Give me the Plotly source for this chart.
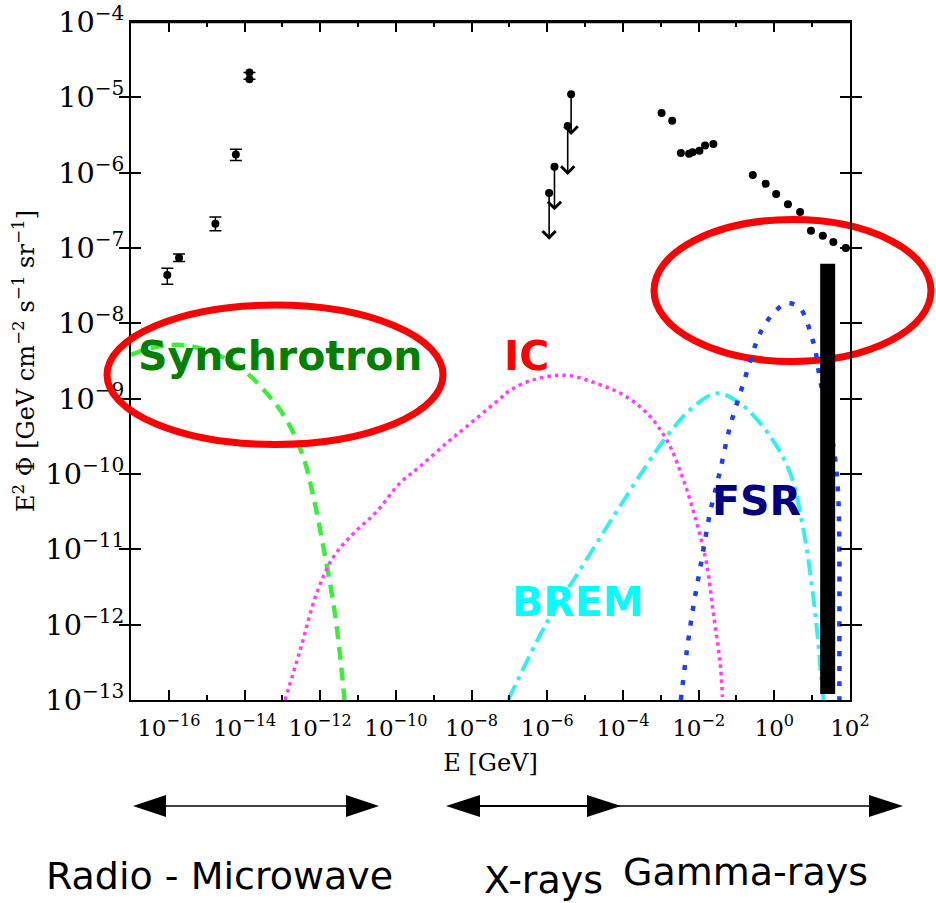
import numpy as np
import plotly.graph_objects as go

# ---------------- data ----------------
# radio / microwave measurements (GeV, GeV cm^-2 s^-1 sr^-1)
radio_E = [9.1e-17, 1.86e-16, 1.7e-15, 5.9e-15, 1.35e-14, 1.35e-14]
radio_flux = [4.37e-8, 7.4e-8, 2.1e-7, 1.74e-6, 2.14e-5, 1.74e-5]
radio_err_plus = [1.0e-8, 0.9e-8, 0.47e-7, 0.30e-6, 0.0, 0.0]
radio_err_minus = [1.06e-8, 0.8e-8, 0.40e-7, 0.29e-6, 0.0, 0.0]

# X-ray upper limits
xray_ul_E = [1.12e-6, 1.55e-6, 3.47e-6, 4.27e-6]
xray_ul_flux = [5.37e-7, 1.20e-6, 4.17e-6, 1.10e-5]
xray_ul_arrow_to = [1.29e-7, 3.16e-7, 9.3e-7, 3.16e-6]

# gamma-ray measurements
gamma_E = [1.05e-3, 2.0e-3, 3.4e-3, 5.6e-3, 6.9e-3, 1.05e-2, 1.48e-2, 2.45e-2,
           0.27, 0.59, 1.12, 2.29, 4.8, 9.3, 19.1, 36.3, 77.6]
gamma_flux = [6.2e-6, 4.9e-6, 1.82e-6, 1.78e-6, 1.86e-6, 1.95e-6, 2.29e-6, 2.4e-6,
              9.3e-7, 7.1e-7, 5.2e-7, 3.8e-7, 3.0e-7, 1.7e-7, 1.45e-7, 1.2e-7, 1.0e-7]

# model curves (log10 E [GeV], log10 E^2 Phi)
sync_logE = [-17.0, -16.5, -16.0, -15.6, -15.0, -14.5, -14.03, -13.41, -12.89,
             -12.45, -12.18, -11.92, -11.65, -11.48, -11.36]
sync_logF = [-8.42, -8.33, -8.29, -8.29, -8.36, -8.47, -8.62, -8.93, -9.28,
             -9.77, -10.30, -10.96, -11.72, -12.38, -13.0]

ic_logE = [-12.93, -12.53, -12.09, -11.65, -11.12, -10.51, -9.89, -9.36, -8.66,
           -8.13, -7.34, -6.98, -6.37, -5.49, -4.69, -3.99, -3.37, -2.84, -2.40,
           -2.05, -1.79, -1.61, -1.43, -1.37]
ic_logF = [-13.0, -12.34, -11.58, -11.10, -10.79, -10.50, -10.12, -9.90, -9.59,
           -9.37, -9.04, -8.89, -8.75, -8.69, -8.80, -8.95, -9.19, -9.55, -10.08,
           -10.65, -11.19, -11.85, -12.51, -12.96]

brem_logE = [-7.03, -6.02, -5.13, -4.08, -2.84, -2.14, -1.52, -0.91, -0.11, 0.42,
             0.77, 1.03, 1.17, 1.24, 1.30]
brem_logF = [-13.0, -11.98, -11.27, -10.43, -9.50, -9.11, -8.93, -9.06, -9.50, -9.99,
             -10.74, -11.63, -12.29, -12.70, -13.0]

fsr_logE = [-2.47, -2.32, -2.14, -1.92, -1.70, -1.43, -1.17, -0.82, -0.42, -0.25,
            -0.03, 0.33, 0.68, 0.86, 0.99, 1.08, 1.21, 1.40, 1.60, 1.69, 1.72,
            1.72, 1.72]
fsr_logF = [-13.0, -12.38, -11.76, -11.14, -10.52, -9.95, -9.37, -8.80, -8.18, -8.02,
            -7.87, -7.73, -7.80, -7.98, -8.18, -8.35, -8.75, -9.20, -9.77, -10.30,
            -11.19, -12.07, -13.0]

# black vertical bar
bar_E = [25.7, 25.7]
bar_flux = [6.2e-8, 1.2e-13]

# axis ticks: labelled (major) decades and unlabelled (minor) decades
x_major_exponents = [-16, -14, -12, -10, -8, -6, -4, -2, 0, 2]
x_minor_exponents = [-17, -15, -13, -11, -9, -7, -5, -3, -1, 1]
x_tick_labels = ["10<sup>\u221216</sup>", "10<sup>\u221214</sup>", "10<sup>\u221212</sup>",
                 "10<sup>\u221210</sup>", "10<sup>\u22128</sup>", "10<sup>\u22126</sup>",
                 "10<sup>\u22124</sup>", "10<sup>\u22122</sup>", "10<sup>0</sup>",
                 "10<sup>2</sup>"]

band_labels = ["Radio - Microwave", "X-rays", "Gamma-rays"]

# ---------------- figure ----------------
W, H = 936, 903
PL, PR, PT, PB = 131, 850, 22, 700   # plot area in pixels


def px(x):
    return (x - PL) / (PR - PL)


def py(y):
    return (PB - y) / (PB - PT)


SERIF = "DejaVu Serif"
SANS = "DejaVu Sans"

fig = go.Figure()

fig.add_trace(go.Scatter(x=10 ** np.array(sync_logE), y=10 ** np.array(sync_logF),
                         mode="lines", line=dict(color="#3cee3c", width=4.5, dash="13px,8px"),
                         line_shape="spline", hoverinfo="skip"))
fig.add_trace(go.Scatter(x=10 ** np.array(ic_logE), y=10 ** np.array(ic_logF),
                         mode="lines", line=dict(color="#ff3cff", width=3.5, dash="3.5px,4px"),
                         line_shape="spline", hoverinfo="skip"))
fig.add_trace(go.Scatter(x=10 ** np.array(brem_logE), y=10 ** np.array(brem_logF),
                         mode="lines", line=dict(color="#33f0f0", width=4, dash="16px,6px,4px,6px"),
                         line_shape="spline", hoverinfo="skip"))
fig.add_trace(go.Scatter(x=10 ** np.array(fsr_logE), y=10 ** np.array(fsr_logF),
                         mode="lines", line=dict(color="#1f3ff0", width=4.5, dash="5px,10px"),
                         line_shape="spline", hoverinfo="skip"))
# the bar lives on the top (twin) x-axis, which has the identical scale
fig.add_trace(go.Scatter(x=bar_E, y=bar_flux, mode="lines", xaxis="x2",
                         line=dict(color="black", width=15), hoverinfo="skip"))

fig.add_trace(go.Scatter(x=radio_E, y=radio_flux, mode="markers",
                         marker=dict(color="black", size=8),
                         error_y=dict(type="data", array=radio_err_plus,
                                      arrayminus=radio_err_minus, color="black",
                                      thickness=1.5, width=6)))
fig.add_trace(go.Scatter(x=xray_ul_E, y=xray_ul_flux, mode="markers",
                         marker=dict(color="black", size=8)))
fig.add_trace(go.Scatter(x=gamma_E, y=gamma_flux, mode="markers",
                         marker=dict(color="black", size=8)))

annotations = []
for e, f, t in zip(xray_ul_E, xray_ul_flux, xray_ul_arrow_to):
    annotations.append(dict(x=np.log10(e), y=np.log10(t), ax=np.log10(e), ay=np.log10(f),
                            xref="x", yref="y", axref="x", ayref="y", text="",
                            showarrow=True, arrowhead=4, arrowsize=1.6, arrowwidth=1.6,
                            arrowcolor="black"))

label_font = dict(family=SANS, size=41, weight="bold")
annotations += [
    dict(x=px(280), y=py(356), xref="paper", yref="paper", text="Synchrotron",
         showarrow=False, xanchor="center", yanchor="middle",
         font=dict(label_font, color="#008000")),
    dict(x=px(526), y=py(356), xref="paper", yref="paper", text="IC",
         showarrow=False, xanchor="center", yanchor="middle",
         font=dict(label_font, color="#ff0000")),
    dict(x=px(578), y=py(602), xref="paper", yref="paper", text="BREM",
         showarrow=False, xanchor="center", yanchor="middle",
         font=dict(label_font, color="#00ffff")),
    dict(x=px(756), y=py(501), xref="paper", yref="paper", text="FSR",
         showarrow=False, xanchor="center", yanchor="middle",
         font=dict(label_font, color="#000080")),
]
band_pos = [(219, 876), (543, 880), (745, 872)]
for lab, (bx, by) in zip(band_labels, band_pos):
    annotations.append(dict(x=px(bx), y=py(by), xref="paper", yref="paper", text=lab,
                            showarrow=False, xanchor="center", yanchor="middle",
                            font=dict(family=SANS, size=38, color="black")))

shapes = []
# top frame line
shapes.append(dict(type="line", xref="paper", yref="paper", x0=0, x1=1, y0=1, y1=1,
                   line=dict(color="black", width=2.5), layer="above"))
# red ellipses
shapes.append(dict(type="circle", xref="paper", yref="paper",
                   x0=px(107), x1=px(443), y0=py(444.5), y1=py(305),
                   line=dict(color="#ff0000", width=7), layer="above"))
shapes.append(dict(type="circle", xref="paper", yref="paper",
                   x0=px(654), x1=px(931), y0=py(361.5), y1=py(219.5),
                   line=dict(color="#ff0000", width=7), layer="below"))


def hline(x0, x1, y, w=1.5):
    return dict(type="line", xref="paper", yref="paper", x0=px(x0), x1=px(x1),
                y0=py(y), y1=py(y), line=dict(color="black", width=w))


def head(tip, base, y, hh=11):
    path = "M{:.5f},{:.5f} L{:.5f},{:.5f} L{:.5f},{:.5f} Z".format(
        px(tip), py(y), px(base), py(y - hh), px(base), py(y + hh))
    return dict(type="path", xref="paper", yref="paper", path=path,
                fillcolor="black", line=dict(color="black", width=0))


AY = 806
shapes += [hline(150, 360, AY), head(133, 166, AY), head(379, 346, AY)]
shapes += [hline(470, 600, AY, 2.2), hline(600, 890, AY), head(446, 480, AY),
           head(621, 587, AY), head(903, 869, AY)]

axis_common = dict(showline=True, linewidth=2, linecolor="black",
                   ticks="inside", ticklen=10, tickwidth=1.5, tickcolor="black",
                   showgrid=False, zeroline=False, automargin=False,
                   ticklabeloverflow="allow",
                   tickfont=dict(family=SERIF, size=23, color="black"))

x_major_vals = [10.0 ** k for k in x_major_exponents]
x_minor = dict(tickmode="array", tickvals=[10.0 ** k for k in x_minor_exponents],
               ticks="inside", ticklen=5, tickwidth=1.5, tickcolor="black", showgrid=False)

fig.update_layout(
    width=W, height=H, autosize=False,
    margin=dict(l=PL, r=W - PR, t=PT, b=H - PB),
    paper_bgcolor="white", plot_bgcolor="rgba(0,0,0,0)",
    showlegend=False,
    xaxis=dict(axis_common, type="log", range=[-17, 2], mirror=False,
               tickvals=x_major_vals, ticktext=x_tick_labels, minor=x_minor,
               ticklabelstandoff=6,
               title=dict(text="E [GeV]", font=dict(family=SERIF, size=24, color="black"),
                          standoff=15)),
    xaxis2=dict(axis_common, type="log", range=[-17, 2], overlaying="x", side="top",
                anchor="y", tickvals=x_major_vals, minor=x_minor, showticklabels=False),
    yaxis=dict(axis_common, type="log", range=[-13, -4], dtick=1, exponentformat="power",
               mirror="allticks",
               title=dict(text="E<sup>2</sup> \u03a6 [GeV cm<sup>\u22122</sup> s<sup>\u22121</sup> sr<sup>\u22121</sup>]",
                          font=dict(family=SERIF, size=24, color="black"), standoff=4)),
    annotations=annotations,
    shapes=shapes,
)

# remove the default page margin so the figure fills the window exactly
fig.write_html("out.html", config={"displayModeBar": False},
               post_script="document.body.style.margin='0px';document.body.style.overflow='hidden';")
